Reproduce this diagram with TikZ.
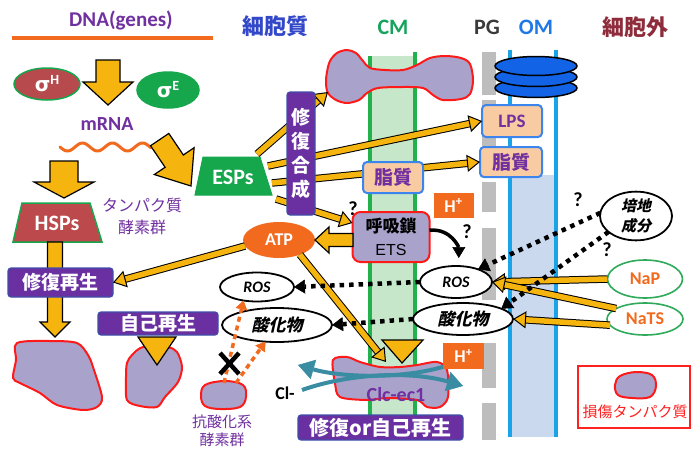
\documentclass[tikz,border=0pt]{standalone}
\usepackage{fontspec}
\setmainfont{Carlito}
\newfontfamily\jp{Noto Sans CJK JP}
\newfontfamily\jpsl{Noto Sans CJK JP}[FakeSlant=0.22]
\newfontfamily\dvs{DejaVu Sans}
\newfontfamily\lsans{Liberation Sans}
\usetikzlibrary{shapes.geometric,arrows.meta,calc}

\definecolor{yel}{HTML}{F6B40E}
\definecolor{purp}{HTML}{7030A0}
\definecolor{pboxc}{HTML}{6A2FA0}
\definecolor{pboxb}{HTML}{3F4FA8}
\definecolor{lav}{HTML}{A9A2CB}
\definecolor{protred}{HTML}{FF1A1A}
\definecolor{orng}{HTML}{F26A1E}
\definecolor{cmlinec}{HTML}{22B14C}
\definecolor{cmfillc}{HTML}{C6E7C9}
\definecolor{omlinec}{HTML}{1AA3E8}
\definecolor{omfillc}{HTML}{CBD9EE}
\definecolor{pggray}{HTML}{BDBDBD}
\definecolor{porinc}{HTML}{1263E6}
\definecolor{peach}{HTML}{F9CBA2}
\definecolor{boxblue}{HTML}{3C84EE}
\definecolor{sigHc}{HTML}{B64A4C}
\definecolor{greenc}{HTML}{16A64C}
\definecolor{hspc}{HTML}{BC4A4C}
\definecolor{cytoc}{HTML}{3348C8}
\definecolor{cmtc}{HTML}{17A35B}
\definecolor{pgtc}{HTML}{3A3A3A}
\definecolor{omtc}{HTML}{1F78E8}
\definecolor{extc}{HTML}{8E2C3C}
\definecolor{tealc}{HTML}{3A8CA3}
\definecolor{napgreen}{HTML}{2EAA5A}
\definecolor{legred}{HTML}{FF2020}

\newcommand\fsz[2]{\fontsize{#1}{#2}\selectfont}
% block arrow: tip, direction angle, total length, head length, head half-width, shaft half-width
\newcommand\fatarr[6]{%
  \begin{scope}[shift={#1},rotate=#2]
    \filldraw[fill=yel,draw=black,line width=1.2pt,line join=miter]
      (0,0) -- (-#4,#5) -- (-#4,#6) -- (-#3,#6) -- (-#3,-#6) -- (-#4,-#6) -- (-#4,-#5) -- cycle;
  \end{scope}}

\begin{document}
\begin{tikzpicture}[x=1pt,y=-1pt,
  every node/.style={inner sep=0pt,outer sep=0pt},
  prot/.style={fill=lav,draw=protred,line width=2pt},
  yarrow/.style={line width=5.5pt,draw=yel,
    -{Triangle[length=13pt,width=17pt,line width=1pt,fill=yel,color=black]},
    preaction={draw=black,line width=7.5pt,-,shorten >=10pt}},
  dotarr/.style={draw=black,line width=4.5pt,dash pattern=on 4.5pt off 5pt,
    -{Triangle[length=11pt,width=14pt,line width=0.5pt]}},
  odash/.style={draw=orng,line width=3.5pt,dash pattern=on 5pt off 4pt,
    -{Triangle[length=9pt,width=12pt,line width=0.5pt]}},
  tealarr/.style={draw=tealc,line width=4pt,
    -{Triangle[length=16pt,width=20pt,line width=0.5pt]}},
  pbox/.style={fill=pboxc,draw=pboxb,line width=1.2pt,rounded corners=3pt,
    text=white,font=\jp\bfseries\fsz{19}{22}},
  peachbox/.style={fill=peach,draw=boxblue,line width=2pt,rounded corners=4pt,
    text=purp,font=\jp\bfseries\fsz{19}{22}},
  oval/.style={ellipse,fill=white,draw=black,line width=1.8pt},
  natoval/.style={ellipse,fill=white,draw=napgreen,line width=1.6pt,
    text=orng,font=\bfseries\fsz{18}{20}},
  title/.style={font=\bfseries\fsz{22}{26}},
  qmark/.style={font=\bfseries\fsz{20}{22}}]

\useasboundingbox (0,0) rectangle (691,450);
\fill[white] (0,0) rectangle (691,450);

% ---- membranes ----
\fill[cmfillc] (370,56) rectangle (415,440);
\draw[cmlinec,line width=4pt] (370,56) -- (370,440) (415,52) -- (415,440);
\fill[omfillc] (510,175) rectangle (556,437);
\draw[omlinec,line width=3.5pt] (510,50) -- (510,437) (556,50) -- (556,437);
\foreach \ya/\yb in {52/95,100/178,182/212,228/300,343/388,403/440}
  \fill[pggray] (482,\ya) rectangle (496,\yb);

% porin in the outer membrane
\foreach \yy in {88,77,66}
  \draw[fill=porinc,draw=black,line width=1.5pt] (536,\yy) ellipse [x radius=41, y radius=9.5];

% ---- damaged / membrane proteins ----
\draw[prot] plot[smooth cycle,tension=0.55] coordinates {(327,72) (330,61) (337,53) (347,50) (356,53) (363,61) (370,68) (385,70) (403,70) (417,65) (430,58) (445,56) (461,58) (470,64) (473,80) (470,94) (461,99) (443,100) (433,95) (423,88) (403,87) (378,88) (367,93) (359,100) (347,103) (336,100) (328,93) (326,83)};
\draw[prot] plot[smooth cycle,tension=0.5] coordinates {(17,343) (50,341) (77,343) (88,355) (93,367) (102,397) (97,407) (83,410) (57,405) (40,393) (20,383) (13,378) (16,360)};
\draw[prot] plot[smooth cycle,tension=0.5] coordinates {(132,355) (143,347) (167,347) (177,352) (182,367) (178,382) (165,397) (157,407) (140,406) (127,400) (126,377) (127,363)};
\draw[prot] plot[smooth cycle,tension=0.6] coordinates {(205,385) (225,381) (243,385) (246,397) (240,407) (220,409) (205,406) (201,396)};
\draw[prot] plot[smooth cycle,tension=0.5] coordinates {(333,360) (347,357) (360,362) (380,367) (400,367) (417,365) (437,362) (447,370) (448,397) (440,407) (427,407) (417,400) (387,398) (367,400) (340,397) (335,383)};

% ---- gene expression ----
\node[text=purp,font=\bfseries\fsz{21}{24}] (dna) at (121,20) {DNA(genes)};
\draw[orng,line width=4pt] (12,38) -- (213,38);
\node[ellipse,fill=sigHc,draw=greenc,line width=1.5pt,minimum width=66pt,minimum height=32pt,
  text=white,font=\bfseries\fsz{20}{22}] (sigH) at (47,84) {{\dvs\bfseries σ}\raisebox{7pt}{\fsz{14}{14}H}};
\node[ellipse,fill=greenc,draw=greenc,line width=1.5pt,minimum width=62pt,minimum height=36pt,
  text=white,font=\bfseries\fsz{20}{22}] (sigE) at (168,90) {{\dvs\bfseries σ}\raisebox{7pt}{\fsz{14}{14}E}};
\fatarr{(108,105)}{-90}{45}{23}{25}{12}
\node[text=purp,font=\bfseries\fsz{20}{24}] (mrna) at (107,124) {mRNA};
\draw[orng,line width=3pt,line cap=round] plot[domain=60:151,samples=80,smooth] (\x,{147+4*sin((\x-60)*12)});
\fatarr{(191,186)}{-56}{56}{30}{24}{11}
\fatarr{(64,198)}{-90}{37}{16}{30}{14}
\filldraw[fill=hspc,draw=greenc,line width=1.5pt] (22,203) -- (90,203) -- (102,242) -- (13,242) -- cycle;
\node[text=white,font=\bfseries\fsz{22}{24}] (hsps) at (57,223) {HSPs};
\filldraw[fill=greenc,draw=greenc,line width=1pt] (203,157) -- (260,157) -- (272,195) -- (195,195) -- cycle;
\node[text=white,font=\bfseries\fsz{22}{24}] (esps) at (233,177) {ESPs};
\node[text=purp,font=\jp\fsz{16}{22},align=center] (enz) at (142,216) {タンパク質\\酵素群};
\fatarr{(55,337)}{-90}{95}{15}{15}{7.5}

% ---- target boxes ----
\node[peachbox,minimum width=60pt,minimum height=32pt,font=\bfseries\fsz{19}{22}] (lps) at (512,121) {LPS};
\node[peachbox,minimum width=62pt,minimum height=30pt] (lip2) at (511,162) {脂質};
\node[fill=lav,draw=protred,line width=2pt,rounded corners=8pt,minimum width=77pt,minimum height=50pt,
  align=center,font=\fsz{17}{23}] (ets) at (391,237) {{\jp\bfseries 呼吸鎖}\\{\lsans\fontsize{16}{23}\selectfont ETS}};
\node[ellipse,fill=orng,minimum width=72pt,minimum height=36pt,text=white,
  font=\bfseries\fsz{18}{20}] (atp) at (279,240) {ATP};
\node[pbox,minimum width=105pt,minimum height=29pt] (rep1) at (60.5,282.5) {修復再生};

\coordinate (e1) at (257,154);
\coordinate (e2) at (268,166);
\coordinate (e3) at (272,183);
\coordinate (e4) at (276,199);
\coordinate (dumbL) at (328,92);
\coordinate (clcT) at (386,362);

\draw[yarrow] (e1) -- (dumbL);
\draw[yarrow] (e2) -- (lps.west);
\draw[yarrow] (e3) -- (lip2.west);
\draw[yarrow] (e4) -- (ets.160);
\draw[yarrow] (atp.190) -- (rep1.east);
\draw[yarrow] (atp.-35) -- (clcT);

\node[pbox,minimum width=28pt,minimum height=123pt,align=center,font=\jp\bfseries\fsz{19}{24}] (rep0) at (301,153.5) {修\\復\\合\\成};
\node[peachbox,minimum width=60pt,minimum height=31pt] (lip1) at (393,177.5) {脂質};
\fatarr{(atp.east)}{180}{38}{14}{13}{6.5}

% ---- ROS and oxidised products ----
\node[oval,minimum width=74pt,minimum height=29pt,font=\bfseries\itshape\fsz{16}{18}] (rosL) at (257,287) {ROS};
\node[oval,minimum width=110pt,minimum height=34pt,font=\jpsl\bfseries\fsz{17}{20}] (oxL) at (277,325) {酸化物};
\node[oval,minimum width=72pt,minimum height=32pt,font=\bfseries\itshape\fsz{16}{18}] (rosR) at (456,282) {ROS};
\node[oval,minimum width=100pt,minimum height=32pt,font=\jpsl\bfseries\fsz{17}{20}] (oxR) at (463,319) {酸化物};
\node[oval,minimum width=72pt,minimum height=44pt,align=center,font=\jpsl\bfseries\fsz{15}{20}] (medium) at (636,216) {培地\\成分};
\node[natoval,minimum width=75pt,minimum height=38pt] (nap) at (645,279) {NaP};
\node[natoval,minimum width=76pt,minimum height=32pt] (nats) at (645,319) {NaTS};

\draw[yarrow] (nap.west) -- (rosR.east);
\draw[yarrow] (nats.160) -- (rosR.east);
\draw[yarrow] (nats.190) -- (oxR.east);

\draw[dotarr] (rosR.west) -- (rosL.east);
\draw[dotarr] (oxR.west) -- (oxL.east);
\draw[dotarr] (medium.175) -- (rosR.30);
\draw[dotarr] (medium.210) -- (oxR.15);
\draw[line width=3.5pt,-{Triangle[length=11pt,width=13pt,line width=0.5pt]},shorten >=8pt]
  (ets.10) .. controls +(22,-2) and +(0,-18) .. (rosR.80);

% antioxidant enzymes blocked
\coordinate (aoxA) at (224,383);
\coordinate (aoxB) at (236,383);
\draw[odash] (aoxA) -- (rosL.-135);
\draw[odash] (aoxB) -- (oxL.-125);
\draw[black,line width=4.5pt] (220,353) -- (239,374) (239,353) -- (220,374);
\node[text=purp,font=\jp\fsz{15}{18},align=center] (aoxlab) at (222,431) {抗酸化系\\酵素群};

% ---- self repair / ClC channel ----
\node[pbox,minimum width=120pt,minimum height=23pt] (rep3) at (158,323.5) {自己再生};
\filldraw[fill=yel,draw=black,line width=1.2pt] (138,337) -- (176,337) -- (157,365) -- cycle;
\filldraw[fill=yel,draw=black,line width=1.2pt] (382,340) -- (423,340) -- (402,363) -- cycle;
\draw[tealarr] (446,366) .. controls (400,380) and (340,377) .. (298,365);
\draw[tealarr] (302,390) .. controls (350,373) and (412,371) .. (463,386);
\node[text=purp,font=\bfseries\fsz{20}{22}] (clc) at (396,395) {Clc-ec1};
\node[font=\bfseries\fsz{18}{20}] (cl) at (285,393) {Cl-};
\node[pbox,minimum width=165pt,minimum height=25pt,font=\jp\bfseries\fsz{20}{22}] (rep2) at (380.5,427.5) {修復or自己再生};

% proton boxes
\node[fill=orng,minimum width=40pt,minimum height=25pt,text=white,font=\bfseries\fsz{18}{20}] (hp1) at (453.5,205.5) {H\textsuperscript{+}};
\node[fill=orng,minimum width=41pt,minimum height=26pt,text=white,font=\bfseries\fsz{18}{20}] (hp2) at (463.5,356) {H\textsuperscript{+}};

% question marks
\node[qmark] (q1) at (353,209) {?};
\node[qmark] (q2) at (467,232) {?};
\node[qmark] (q3) at (578,200) {?};
\node[qmark] (q4) at (607,250) {?};

% ---- legend ----
\node[draw=legred,fill=white,line width=2pt,minimum width=112pt,minimum height=62pt] (legend) at (634,397) {};
\draw[prot] plot[smooth cycle,tension=0.6] coordinates {(620,376) (636,372) (652,375) (656,386) (650,397) (632,398) (618,395) (615,385)};
\node[text=legred,font=\jp\fsz{15}{18}] (leglab) at (635,412) {損傷タンパク質};

% ---- compartment titles ----
\node[title,text=cytoc,font=\jp\bfseries\fsz{22}{26}] (cyto) at (275,26) {細胞質};
\node[title,text=cmtc] (cmt) at (393,27) {CM};
\node[title,text=pgtc] (pgt) at (487,27) {PG};
\node[title,text=omtc] (omt) at (536,27) {OM};
\node[title,text=extc,font=\jp\bfseries\fsz{22}{26}] (extra) at (635,27) {細胞外};
\end{tikzpicture}
\end{document}
